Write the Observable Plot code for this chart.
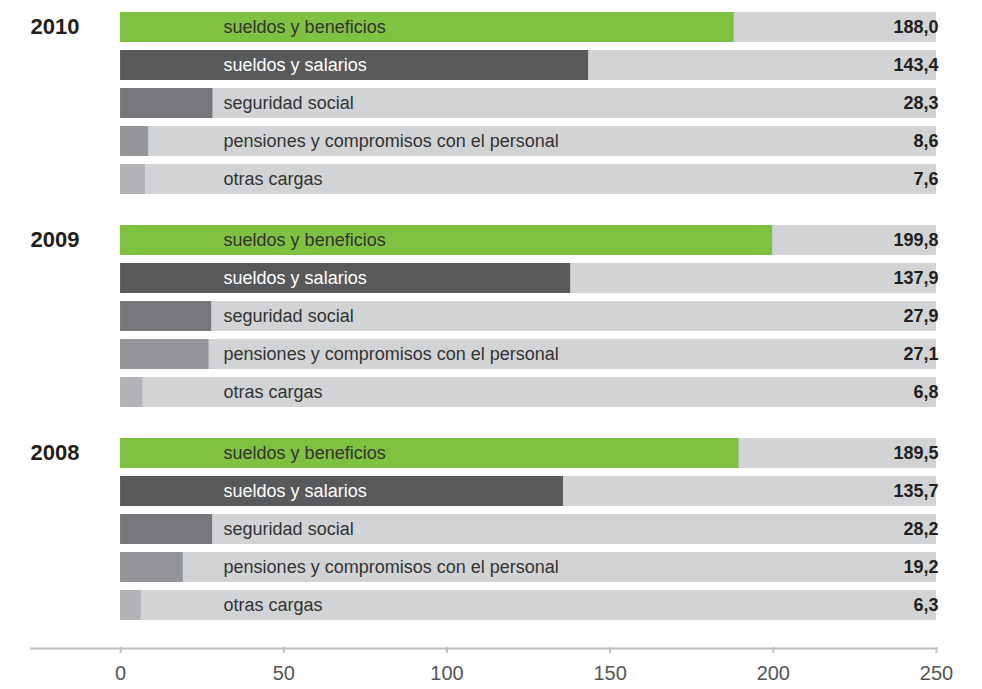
<!DOCTYPE html>
<html><head><meta charset="utf-8">
<script src="https://cdn.jsdelivr.net/npm/d3@7"></script>
<script src="https://cdn.jsdelivr.net/npm/@observablehq/plot@0.6"></script>
<style>body{margin:0;background:#fff;}</style>
</head><body><div id="chart"></div>
<script>
const years = [2010, 2009, 2008];
const categories = ["sueldos y beneficios", "sueldos y salarios", "seguridad social", "pensiones y compromisos con el personal", "otras cargas"];
const values2010 = [188.0, 143.4, 28.3, 8.6, 7.6];
const values2009 = [199.8, 137.9, 27.9, 27.1, 6.8];
const values2008 = [189.5, 135.7, 28.2, 19.2, 6.3];
const xTicks = [0, 50, 100, 150, 200, 250];
const xMin = -27.6;
const xMax = 250;
const colors = ["#7fc241", "#58595b", "#76777a", "#939598", "#b1b3b6"];

const byYear = {2010: values2010, 2009: values2009, 2008: values2008};
const rows = years.flatMap(year => categories.map((category, i) => ({year, category, value: byYear[year][i], color: colors[i]})));
const yearRows = years.map(year => ({year, category: categories[0]}));
const fmt = v => v.toFixed(1).replace(".", ",");

const chart = Plot.plot({
  width: 982,
  height: 689,
  marginTop: 8,
  marginBottom: 65,
  marginLeft: 30,
  marginRight: 46,
  style: {fontFamily: "'Liberation Sans', Arial, sans-serif", background: "#fff"},
  facet: {margin: 0},
  x: {domain: [xMin, xMax], axis: null},
  y: {domain: categories, paddingInner: 0.21, paddingOuter: 0.105, axis: null},
  fy: {domain: years, paddingInner: 0.108, paddingOuter: 0, axis: null},
  marks: [
    Plot.barX(rows, {x1: () => 0, x2: () => xMax, y: "category", fy: "year", fill: "#d1d3d4"}),
    Plot.barX(rows, {x1: () => 0, x2: "value", y: "category", fy: "year", fill: d => d.color}),
    Plot.text(rows, {x: () => 0, dx: 103, y: "category", fy: "year", text: "category", textAnchor: "start",
      fill: d => d.category === "sueldos y salarios" ? "#ffffff" : "#333333", fontSize: 18}),
    Plot.text(rows, {frameAnchor: "right", dx: 2, y: "category", fy: "year", text: d => fmt(d.value), textAnchor: "end",
      fill: "#231f20", fontSize: 18, fontWeight: "bold"}),
    Plot.text(yearRows, {frameAnchor: "left", dy: -1, y: "category", fy: "year", text: d => String(d.year), textAnchor: "start",
      fill: "#231f20", fontSize: 22, fontWeight: "bold"}),
    Plot.ruleY([categories[categories.length - 1]], {y: d => d, fy: () => years[years.length - 1], dy: 43, stroke: "#bcbec0", strokeWidth: 2}),
    Plot.axisX({ticks: xTicks, label: null, tickSize: 6, tickPadding: 12, dy: 23, stroke: "#bcbec0", strokeWidth: 2, fill: "#555", fontSize: 20, tickFormat: d => String(d)})
  ]
});
document.getElementById("chart").appendChild(chart);
</script>
</body></html>
